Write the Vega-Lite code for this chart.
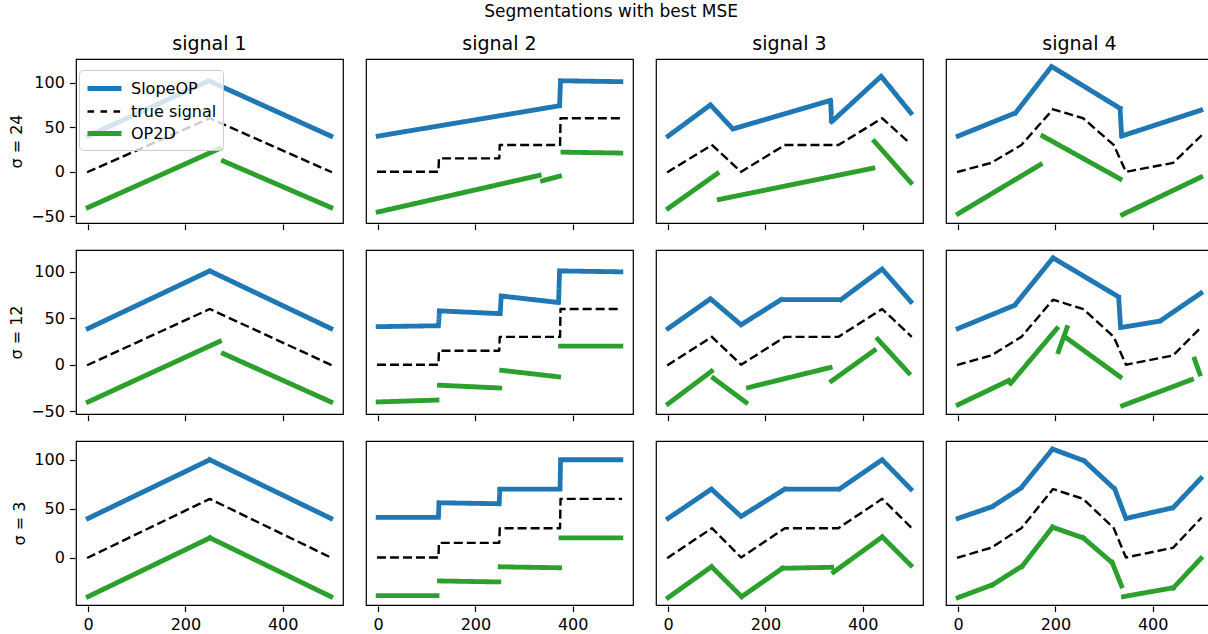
{
  "$schema": "https://vega.github.io/schema/vega-lite/v6.json",
  "background": "white",
  "padding": {"left": 8, "top": 3, "right": 0, "bottom": 0},
  "title": {"text": "Segmentations with best MSE", "fontSize": 17, "fontWeight": "normal", "font": "DejaVu Sans", "color": "black", "anchor": "middle", "offset": 14},
  "config": {
    "font": "DejaVu Sans",
    "view": {"stroke": "black", "strokeWidth": 1.2},
    "axis": {"grid": false, "domain": false, "tickColor": "black", "tickSize": 5.6, "tickWidth": 1.2, "labelFontSize": 16, "labelColor": "black", "labelFont": "DejaVu Sans", "labelPadding": 5, "titleFontSize": 16, "titleFontWeight": "normal", "titleColor": "black", "titleFont": "DejaVu Sans", "titlePadding": 6},
    "header": {"labelFontSize": 19, "labelColor": "black", "labelFont": "DejaVu Sans", "labelPadding": 4},
    "facet": {"spacing": 21},
    "concat": {"spacing": 18}
  },
  "datasets": {
    "d": [
      {"r":24,"c":"signal 1","m":"SlopeOP","g":"a","x":0,"y":40},{"r":24,"c":"signal 1","m":"SlopeOP","g":"a","x":248,"y":102},{"r":24,"c":"signal 1","m":"SlopeOP","g":"a","x":499,"y":40},
      {"r":24,"c":"signal 1","m":"true signal","g":"t","x":0,"y":0},{"r":24,"c":"signal 1","m":"true signal","g":"t","x":250,"y":60},{"r":24,"c":"signal 1","m":"true signal","g":"t","x":499,"y":0},
      {"r":24,"c":"signal 1","m":"OP2D","g":"1","x":0,"y":-40},{"r":24,"c":"signal 1","m":"OP2D","g":"1","x":270,"y":26},
      {"r":24,"c":"signal 1","m":"OP2D","g":"2","x":278,"y":12},{"r":24,"c":"signal 1","m":"OP2D","g":"2","x":499,"y":-40},

      {"r":24,"c":"signal 2","m":"SlopeOP","g":"a","x":0,"y":40},{"r":24,"c":"signal 2","m":"SlopeOP","g":"a","x":373,"y":74},{"r":24,"c":"signal 2","m":"SlopeOP","g":"a","x":375,"y":102},{"r":24,"c":"signal 2","m":"SlopeOP","g":"a","x":499,"y":101},
      {"r":24,"c":"signal 2","m":"true signal","g":"t","x":0,"y":0},{"r":24,"c":"signal 2","m":"true signal","g":"t","x":124,"y":0},{"r":24,"c":"signal 2","m":"true signal","g":"t","x":125,"y":15},{"r":24,"c":"signal 2","m":"true signal","g":"t","x":249,"y":15},{"r":24,"c":"signal 2","m":"true signal","g":"t","x":250,"y":30},{"r":24,"c":"signal 2","m":"true signal","g":"t","x":374,"y":30},{"r":24,"c":"signal 2","m":"true signal","g":"t","x":375,"y":60},{"r":24,"c":"signal 2","m":"true signal","g":"t","x":499,"y":60},
      {"r":24,"c":"signal 2","m":"OP2D","g":"1","x":0,"y":-45},{"r":24,"c":"signal 2","m":"OP2D","g":"1","x":331,"y":-4},
      {"r":24,"c":"signal 2","m":"OP2D","g":"2","x":338,"y":-10},{"r":24,"c":"signal 2","m":"OP2D","g":"2","x":373,"y":-5},
      {"r":24,"c":"signal 2","m":"OP2D","g":"3","x":380,"y":22},{"r":24,"c":"signal 2","m":"OP2D","g":"3","x":499,"y":21},

      {"r":24,"c":"signal 3","m":"SlopeOP","g":"a","x":0,"y":40},{"r":24,"c":"signal 3","m":"SlopeOP","g":"a","x":87,"y":75},{"r":24,"c":"signal 3","m":"SlopeOP","g":"a","x":133,"y":48},{"r":24,"c":"signal 3","m":"SlopeOP","g":"a","x":334,"y":80},{"r":24,"c":"signal 3","m":"SlopeOP","g":"a","x":336,"y":56},{"r":24,"c":"signal 3","m":"SlopeOP","g":"a","x":438,"y":107},{"r":24,"c":"signal 3","m":"SlopeOP","g":"a","x":499,"y":66},
      {"r":24,"c":"signal 3","m":"true signal","g":"t","x":0,"y":0},{"r":24,"c":"signal 3","m":"true signal","g":"t","x":90,"y":30},{"r":24,"c":"signal 3","m":"true signal","g":"t","x":150,"y":0},{"r":24,"c":"signal 3","m":"true signal","g":"t","x":240,"y":30},{"r":24,"c":"signal 3","m":"true signal","g":"t","x":350,"y":30},{"r":24,"c":"signal 3","m":"true signal","g":"t","x":440,"y":60},{"r":24,"c":"signal 3","m":"true signal","g":"t","x":499,"y":31},
      {"r":24,"c":"signal 3","m":"OP2D","g":"1","x":0,"y":-41},{"r":24,"c":"signal 3","m":"OP2D","g":"1","x":101,"y":-2},
      {"r":24,"c":"signal 3","m":"OP2D","g":"2","x":105,"y":-31},{"r":24,"c":"signal 3","m":"OP2D","g":"2","x":421,"y":4},
      {"r":24,"c":"signal 3","m":"OP2D","g":"3","x":424,"y":34},{"r":24,"c":"signal 3","m":"OP2D","g":"3","x":499,"y":-12},

      {"r":24,"c":"signal 4","m":"SlopeOP","g":"a","x":0,"y":40},{"r":24,"c":"signal 4","m":"SlopeOP","g":"a","x":118,"y":66},{"r":24,"c":"signal 4","m":"SlopeOP","g":"a","x":192,"y":118},{"r":24,"c":"signal 4","m":"SlopeOP","g":"a","x":333,"y":71},{"r":24,"c":"signal 4","m":"SlopeOP","g":"a","x":336,"y":40},{"r":24,"c":"signal 4","m":"SlopeOP","g":"a","x":499,"y":69},
      {"r":24,"c":"signal 4","m":"true signal","g":"t","x":0,"y":0},{"r":24,"c":"signal 4","m":"true signal","g":"t","x":68,"y":10},{"r":24,"c":"signal 4","m":"true signal","g":"t","x":130,"y":30},{"r":24,"c":"signal 4","m":"true signal","g":"t","x":195,"y":70},{"r":24,"c":"signal 4","m":"true signal","g":"t","x":257,"y":60},{"r":24,"c":"signal 4","m":"true signal","g":"t","x":320,"y":30},{"r":24,"c":"signal 4","m":"true signal","g":"t","x":345,"y":0},{"r":24,"c":"signal 4","m":"true signal","g":"t","x":442,"y":10},{"r":24,"c":"signal 4","m":"true signal","g":"t","x":499,"y":40},
      {"r":24,"c":"signal 4","m":"OP2D","g":"1","x":0,"y":-47},{"r":24,"c":"signal 4","m":"OP2D","g":"1","x":169,"y":8},
      {"r":24,"c":"signal 4","m":"OP2D","g":"2","x":174,"y":40},{"r":24,"c":"signal 4","m":"OP2D","g":"2","x":333,"y":-8},
      {"r":24,"c":"signal 4","m":"OP2D","g":"3","x":338,"y":-48},{"r":24,"c":"signal 4","m":"OP2D","g":"3","x":499,"y":-6},

      {"r":12,"c":"signal 1","m":"SlopeOP","g":"a","x":0,"y":39},{"r":12,"c":"signal 1","m":"SlopeOP","g":"a","x":250,"y":101},{"r":12,"c":"signal 1","m":"SlopeOP","g":"a","x":499,"y":39},
      {"r":12,"c":"signal 1","m":"true signal","g":"t","x":0,"y":0},{"r":12,"c":"signal 1","m":"true signal","g":"t","x":250,"y":60},{"r":12,"c":"signal 1","m":"true signal","g":"t","x":499,"y":0},
      {"r":12,"c":"signal 1","m":"OP2D","g":"1","x":0,"y":-40},{"r":12,"c":"signal 1","m":"OP2D","g":"1","x":270,"y":25},
      {"r":12,"c":"signal 1","m":"OP2D","g":"2","x":278,"y":12},{"r":12,"c":"signal 1","m":"OP2D","g":"2","x":499,"y":-40},

      {"r":12,"c":"signal 2","m":"SlopeOP","g":"a","x":0,"y":41},{"r":12,"c":"signal 2","m":"SlopeOP","g":"a","x":124,"y":42},{"r":12,"c":"signal 2","m":"SlopeOP","g":"a","x":126,"y":58},{"r":12,"c":"signal 2","m":"SlopeOP","g":"a","x":251,"y":55},{"r":12,"c":"signal 2","m":"SlopeOP","g":"a","x":253,"y":74},{"r":12,"c":"signal 2","m":"SlopeOP","g":"a","x":371,"y":67},{"r":12,"c":"signal 2","m":"SlopeOP","g":"a","x":373,"y":101},{"r":12,"c":"signal 2","m":"SlopeOP","g":"a","x":499,"y":100},
      {"r":12,"c":"signal 2","m":"true signal","g":"t","x":0,"y":0},{"r":12,"c":"signal 2","m":"true signal","g":"t","x":124,"y":0},{"r":12,"c":"signal 2","m":"true signal","g":"t","x":125,"y":15},{"r":12,"c":"signal 2","m":"true signal","g":"t","x":249,"y":15},{"r":12,"c":"signal 2","m":"true signal","g":"t","x":250,"y":30},{"r":12,"c":"signal 2","m":"true signal","g":"t","x":374,"y":30},{"r":12,"c":"signal 2","m":"true signal","g":"t","x":375,"y":60},{"r":12,"c":"signal 2","m":"true signal","g":"t","x":499,"y":60},
      {"r":12,"c":"signal 2","m":"OP2D","g":"1","x":0,"y":-40},{"r":12,"c":"signal 2","m":"OP2D","g":"1","x":121,"y":-38},
      {"r":12,"c":"signal 2","m":"OP2D","g":"2","x":126,"y":-22},{"r":12,"c":"signal 2","m":"OP2D","g":"2","x":250,"y":-25},
      {"r":12,"c":"signal 2","m":"OP2D","g":"3","x":254,"y":-6},{"r":12,"c":"signal 2","m":"OP2D","g":"3","x":371,"y":-13},
      {"r":12,"c":"signal 2","m":"OP2D","g":"4","x":375,"y":20},{"r":12,"c":"signal 2","m":"OP2D","g":"4","x":499,"y":20},

      {"r":12,"c":"signal 3","m":"SlopeOP","g":"a","x":0,"y":39},{"r":12,"c":"signal 3","m":"SlopeOP","g":"a","x":87,"y":71},{"r":12,"c":"signal 3","m":"SlopeOP","g":"a","x":150,"y":43},{"r":12,"c":"signal 3","m":"SlopeOP","g":"a","x":232,"y":70},{"r":12,"c":"signal 3","m":"SlopeOP","g":"a","x":355,"y":70},{"r":12,"c":"signal 3","m":"SlopeOP","g":"a","x":440,"y":103},{"r":12,"c":"signal 3","m":"SlopeOP","g":"a","x":499,"y":68},
      {"r":12,"c":"signal 3","m":"true signal","g":"t","x":0,"y":0},{"r":12,"c":"signal 3","m":"true signal","g":"t","x":90,"y":30},{"r":12,"c":"signal 3","m":"true signal","g":"t","x":150,"y":0},{"r":12,"c":"signal 3","m":"true signal","g":"t","x":240,"y":30},{"r":12,"c":"signal 3","m":"true signal","g":"t","x":350,"y":30},{"r":12,"c":"signal 3","m":"true signal","g":"t","x":440,"y":60},{"r":12,"c":"signal 3","m":"true signal","g":"t","x":499,"y":31},
      {"r":12,"c":"signal 3","m":"OP2D","g":"1","x":0,"y":-42},{"r":12,"c":"signal 3","m":"OP2D","g":"1","x":89,"y":-7},
      {"r":12,"c":"signal 3","m":"OP2D","g":"2","x":93,"y":-14.5},{"r":12,"c":"signal 3","m":"OP2D","g":"2","x":160,"y":-40.5},
      {"r":12,"c":"signal 3","m":"OP2D","g":"3","x":165,"y":-24.5},{"r":12,"c":"signal 3","m":"OP2D","g":"3","x":333,"y":-3},
      {"r":12,"c":"signal 3","m":"OP2D","g":"4","x":336,"y":-17.5},{"r":12,"c":"signal 3","m":"OP2D","g":"4","x":424,"y":15.5},
      {"r":12,"c":"signal 3","m":"OP2D","g":"5","x":431,"y":27.5},{"r":12,"c":"signal 3","m":"OP2D","g":"5","x":495,"y":-9},

      {"r":12,"c":"signal 4","m":"SlopeOP","g":"a","x":0,"y":39},{"r":12,"c":"signal 4","m":"SlopeOP","g":"a","x":116,"y":64},{"r":12,"c":"signal 4","m":"SlopeOP","g":"a","x":195,"y":115},{"r":12,"c":"signal 4","m":"SlopeOP","g":"a","x":330,"y":73},{"r":12,"c":"signal 4","m":"SlopeOP","g":"a","x":334,"y":40},{"r":12,"c":"signal 4","m":"SlopeOP","g":"a","x":415,"y":47},{"r":12,"c":"signal 4","m":"SlopeOP","g":"a","x":499,"y":77},
      {"r":12,"c":"signal 4","m":"true signal","g":"t","x":0,"y":0},{"r":12,"c":"signal 4","m":"true signal","g":"t","x":68,"y":10},{"r":12,"c":"signal 4","m":"true signal","g":"t","x":130,"y":30},{"r":12,"c":"signal 4","m":"true signal","g":"t","x":195,"y":70},{"r":12,"c":"signal 4","m":"true signal","g":"t","x":257,"y":60},{"r":12,"c":"signal 4","m":"true signal","g":"t","x":320,"y":30},{"r":12,"c":"signal 4","m":"true signal","g":"t","x":345,"y":0},{"r":12,"c":"signal 4","m":"true signal","g":"t","x":442,"y":10},{"r":12,"c":"signal 4","m":"true signal","g":"t","x":499,"y":40},
      {"r":12,"c":"signal 4","m":"OP2D","g":"1","x":0,"y":-43},{"r":12,"c":"signal 4","m":"OP2D","g":"1","x":104,"y":-17},
      {"r":12,"c":"signal 4","m":"OP2D","g":"2","x":108,"y":-20},{"r":12,"c":"signal 4","m":"OP2D","g":"2","x":203,"y":39},
      {"r":12,"c":"signal 4","m":"OP2D","g":"3","x":206,"y":14},{"r":12,"c":"signal 4","m":"OP2D","g":"3","x":224,"y":40},
      {"r":12,"c":"signal 4","m":"OP2D","g":"4","x":221,"y":29.5},{"r":12,"c":"signal 4","m":"OP2D","g":"4","x":333,"y":-13},
      {"r":12,"c":"signal 4","m":"OP2D","g":"5","x":338,"y":-44},{"r":12,"c":"signal 4","m":"OP2D","g":"5","x":480,"y":-16},
      {"r":12,"c":"signal 4","m":"OP2D","g":"6","x":486,"y":6},{"r":12,"c":"signal 4","m":"OP2D","g":"6","x":497,"y":-10},

      {"r":3,"c":"signal 1","m":"SlopeOP","g":"a","x":0,"y":40},{"r":3,"c":"signal 1","m":"SlopeOP","g":"a","x":250,"y":100},{"r":3,"c":"signal 1","m":"SlopeOP","g":"a","x":499,"y":40},
      {"r":3,"c":"signal 1","m":"true signal","g":"t","x":0,"y":0},{"r":3,"c":"signal 1","m":"true signal","g":"t","x":250,"y":60},{"r":3,"c":"signal 1","m":"true signal","g":"t","x":499,"y":0},
      {"r":3,"c":"signal 1","m":"OP2D","g":"1","x":0,"y":-40},{"r":3,"c":"signal 1","m":"OP2D","g":"1","x":250,"y":20},
      {"r":3,"c":"signal 1","m":"OP2D","g":"2","x":251,"y":20},{"r":3,"c":"signal 1","m":"OP2D","g":"2","x":499,"y":-40},

      {"r":3,"c":"signal 2","m":"SlopeOP","g":"a","x":0,"y":41},{"r":3,"c":"signal 2","m":"SlopeOP","g":"a","x":124,"y":41},{"r":3,"c":"signal 2","m":"SlopeOP","g":"a","x":125,"y":56},{"r":3,"c":"signal 2","m":"SlopeOP","g":"a","x":249,"y":55},{"r":3,"c":"signal 2","m":"SlopeOP","g":"a","x":250,"y":70},{"r":3,"c":"signal 2","m":"SlopeOP","g":"a","x":374,"y":70},{"r":3,"c":"signal 2","m":"SlopeOP","g":"a","x":375,"y":100},{"r":3,"c":"signal 2","m":"SlopeOP","g":"a","x":499,"y":100},
      {"r":3,"c":"signal 2","m":"true signal","g":"t","x":0,"y":0},{"r":3,"c":"signal 2","m":"true signal","g":"t","x":124,"y":0},{"r":3,"c":"signal 2","m":"true signal","g":"t","x":125,"y":15},{"r":3,"c":"signal 2","m":"true signal","g":"t","x":249,"y":15},{"r":3,"c":"signal 2","m":"true signal","g":"t","x":250,"y":30},{"r":3,"c":"signal 2","m":"true signal","g":"t","x":374,"y":30},{"r":3,"c":"signal 2","m":"true signal","g":"t","x":375,"y":60},{"r":3,"c":"signal 2","m":"true signal","g":"t","x":499,"y":60},
      {"r":3,"c":"signal 2","m":"OP2D","g":"1","x":0,"y":-39},{"r":3,"c":"signal 2","m":"OP2D","g":"1","x":121,"y":-39},
      {"r":3,"c":"signal 2","m":"OP2D","g":"2","x":126,"y":-24},{"r":3,"c":"signal 2","m":"OP2D","g":"2","x":248,"y":-25},
      {"r":3,"c":"signal 2","m":"OP2D","g":"3","x":251,"y":-9.5},{"r":3,"c":"signal 2","m":"OP2D","g":"3","x":373,"y":-10.5},
      {"r":3,"c":"signal 2","m":"OP2D","g":"4","x":376,"y":20},{"r":3,"c":"signal 2","m":"OP2D","g":"4","x":499,"y":20},

      {"r":3,"c":"signal 3","m":"SlopeOP","g":"a","x":0,"y":40},{"r":3,"c":"signal 3","m":"SlopeOP","g":"a","x":89,"y":70},{"r":3,"c":"signal 3","m":"SlopeOP","g":"a","x":150,"y":42},{"r":3,"c":"signal 3","m":"SlopeOP","g":"a","x":240,"y":70},{"r":3,"c":"signal 3","m":"SlopeOP","g":"a","x":352,"y":70},{"r":3,"c":"signal 3","m":"SlopeOP","g":"a","x":440,"y":100},{"r":3,"c":"signal 3","m":"SlopeOP","g":"a","x":499,"y":70},
      {"r":3,"c":"signal 3","m":"true signal","g":"t","x":0,"y":0},{"r":3,"c":"signal 3","m":"true signal","g":"t","x":90,"y":30},{"r":3,"c":"signal 3","m":"true signal","g":"t","x":150,"y":0},{"r":3,"c":"signal 3","m":"true signal","g":"t","x":240,"y":30},{"r":3,"c":"signal 3","m":"true signal","g":"t","x":350,"y":30},{"r":3,"c":"signal 3","m":"true signal","g":"t","x":440,"y":60},{"r":3,"c":"signal 3","m":"true signal","g":"t","x":499,"y":31},
      {"r":3,"c":"signal 3","m":"OP2D","g":"1","x":0,"y":-41},{"r":3,"c":"signal 3","m":"OP2D","g":"1","x":89,"y":-9.5},
      {"r":3,"c":"signal 3","m":"OP2D","g":"2","x":89.5,"y":-9.5},{"r":3,"c":"signal 3","m":"OP2D","g":"2","x":151,"y":-40},
      {"r":3,"c":"signal 3","m":"OP2D","g":"3","x":151.5,"y":-40},{"r":3,"c":"signal 3","m":"OP2D","g":"3","x":235,"y":-11},
      {"r":3,"c":"signal 3","m":"OP2D","g":"4","x":235.5,"y":-11},{"r":3,"c":"signal 3","m":"OP2D","g":"4","x":336,"y":-10},
      {"r":3,"c":"signal 3","m":"OP2D","g":"5","x":340,"y":-15},{"r":3,"c":"signal 3","m":"OP2D","g":"5","x":440,"y":21},
      {"r":3,"c":"signal 3","m":"OP2D","g":"6","x":440.5,"y":21},{"r":3,"c":"signal 3","m":"OP2D","g":"6","x":499,"y":-8},

      {"r":3,"c":"signal 4","m":"SlopeOP","g":"a","x":0,"y":40},{"r":3,"c":"signal 4","m":"SlopeOP","g":"a","x":70,"y":52},{"r":3,"c":"signal 4","m":"SlopeOP","g":"a","x":129,"y":71},{"r":3,"c":"signal 4","m":"SlopeOP","g":"a","x":194,"y":111},{"r":3,"c":"signal 4","m":"SlopeOP","g":"a","x":259,"y":99},{"r":3,"c":"signal 4","m":"SlopeOP","g":"a","x":322,"y":70},{"r":3,"c":"signal 4","m":"SlopeOP","g":"a","x":345,"y":40},{"r":3,"c":"signal 4","m":"SlopeOP","g":"a","x":442,"y":51},{"r":3,"c":"signal 4","m":"SlopeOP","g":"a","x":499,"y":81},
      {"r":3,"c":"signal 4","m":"true signal","g":"t","x":0,"y":0},{"r":3,"c":"signal 4","m":"true signal","g":"t","x":68,"y":10},{"r":3,"c":"signal 4","m":"true signal","g":"t","x":130,"y":30},{"r":3,"c":"signal 4","m":"true signal","g":"t","x":195,"y":70},{"r":3,"c":"signal 4","m":"true signal","g":"t","x":257,"y":60},{"r":3,"c":"signal 4","m":"true signal","g":"t","x":320,"y":30},{"r":3,"c":"signal 4","m":"true signal","g":"t","x":345,"y":0},{"r":3,"c":"signal 4","m":"true signal","g":"t","x":442,"y":10},{"r":3,"c":"signal 4","m":"true signal","g":"t","x":499,"y":40},
      {"r":3,"c":"signal 4","m":"OP2D","g":"1","x":0,"y":-41},{"r":3,"c":"signal 4","m":"OP2D","g":"1","x":70,"y":-28},
      {"r":3,"c":"signal 4","m":"OP2D","g":"2","x":70.5,"y":-28},{"r":3,"c":"signal 4","m":"OP2D","g":"2","x":131,"y":-9},
      {"r":3,"c":"signal 4","m":"OP2D","g":"3","x":131.5,"y":-9},{"r":3,"c":"signal 4","m":"OP2D","g":"3","x":194,"y":31},
      {"r":3,"c":"signal 4","m":"OP2D","g":"4","x":194.5,"y":31},{"r":3,"c":"signal 4","m":"OP2D","g":"4","x":257,"y":20},
      {"r":3,"c":"signal 4","m":"OP2D","g":"5","x":257.5,"y":20},{"r":3,"c":"signal 4","m":"OP2D","g":"5","x":316,"y":-5},
      {"r":3,"c":"signal 4","m":"OP2D","g":"6","x":316.5,"y":-5},{"r":3,"c":"signal 4","m":"OP2D","g":"6","x":336,"y":-29},
      {"r":3,"c":"signal 4","m":"OP2D","g":"7","x":340,"y":-40},{"r":3,"c":"signal 4","m":"OP2D","g":"7","x":442,"y":-31},
      {"r":3,"c":"signal 4","m":"OP2D","g":"8","x":442.5,"y":-31},{"r":3,"c":"signal 4","m":"OP2D","g":"8","x":499,"y":-1}
    ]
  },
  "resolve": {
    "scale": {"x": "independent", "y": "independent", "color": "shared", "strokeDash": "shared", "strokeWidth": "shared"},
    "legend": {"color": "shared", "strokeDash": "shared", "strokeWidth": "shared"}
  },
  "vconcat": [
    {
      "data": {"name": "d"},
      "transform": [{"filter": "datum.r == 24"}],
      "facet": {"column": {"field": "c", "type": "nominal", "title": null}},
      "spec": {
        "width": 267, "height": 164,
        "mark": {"type": "line", "strokeCap": "square", "strokeJoin": "round"},
        "encoding": {
          "x": {"field": "x", "type": "quantitative", "scale": {"domain": [-25, 524], "nice": false, "zero": false}, "axis": {"values": [0, 200, 400], "labels": false, "title": null}},
          "y": {"field": "y", "type": "quantitative", "scale": {"domain": [-57.4, 126.4], "nice": false, "zero": false}, "axis": {"values": [-50, 0, 50, 100], "title": "σ = 24"}},
          "color": {"field": "m", "type": "nominal", "scale": {"domain": ["SlopeOP", "true signal", "OP2D"], "range": ["#1f77b4", "#000000", "#2ca02c"]},
            "legend": {"orient": "none", "legendX": 3, "legendY": 11, "title": null, "fillColor": "rgba(255,255,255,0.8)", "strokeColor": "#cccccc", "cornerRadius": 4, "padding": 6, "labelFontSize": 16, "labelColor": "black", "labelFont": "DejaVu Sans", "symbolType": "M-1,0H2.4", "symbolSize": 400, "rowPadding": 1, "labelOffset": 21}},
          "strokeDash": {"field": "m", "type": "nominal", "scale": {"domain": ["SlopeOP", "true signal", "OP2D"], "range": [[1, 0], [6.6, 6.4], [1, 0]]}},
          "strokeWidth": {"field": "m", "type": "nominal", "scale": {"type": "ordinal", "domain": ["SlopeOP", "true signal", "OP2D"], "range": [4.8, 2.4, 4.8]}},
          "detail": {"field": "g", "type": "nominal"}
        }
      }
    },
    {
      "data": {"name": "d"},
      "transform": [{"filter": "datum.r == 12"}],
      "facet": {"column": {"field": "c", "type": "nominal", "title": null, "header": {"labels": false, "labelPadding": 0}}},
      "spec": {
        "width": 267, "height": 164,
        "mark": {"type": "line", "strokeCap": "square", "strokeJoin": "round"},
        "encoding": {
          "x": {"field": "x", "type": "quantitative", "scale": {"domain": [-25, 524], "nice": false, "zero": false}, "axis": {"values": [0, 200, 400], "labels": false, "title": null}},
          "y": {"field": "y", "type": "quantitative", "scale": {"domain": [-53, 123.5], "nice": false, "zero": false}, "axis": {"values": [-50, 0, 50, 100], "title": "σ = 12"}},
          "color": {"field": "m", "type": "nominal", "scale": {"domain": ["SlopeOP", "true signal", "OP2D"], "range": ["#1f77b4", "#000000", "#2ca02c"]},
            "legend": {"orient": "none", "legendX": 3, "legendY": 11, "title": null, "fillColor": "rgba(255,255,255,0.8)", "strokeColor": "#cccccc", "cornerRadius": 4, "padding": 6, "labelFontSize": 16, "labelColor": "black", "labelFont": "DejaVu Sans", "symbolType": "M-1,0H2.4", "symbolSize": 400, "rowPadding": 1, "labelOffset": 21}},
          "strokeDash": {"field": "m", "type": "nominal", "scale": {"domain": ["SlopeOP", "true signal", "OP2D"], "range": [[1, 0], [6.6, 6.4], [1, 0]]}},
          "strokeWidth": {"field": "m", "type": "nominal", "scale": {"type": "ordinal", "domain": ["SlopeOP", "true signal", "OP2D"], "range": [4.8, 2.4, 4.8]}},
          "detail": {"field": "g", "type": "nominal"}
        }
      }
    },
    {
      "data": {"name": "d"},
      "transform": [{"filter": "datum.r == 3"}],
      "facet": {"column": {"field": "c", "type": "nominal", "title": null, "header": {"labels": false, "labelPadding": 0}}},
      "spec": {
        "width": 267, "height": 164,
        "mark": {"type": "line", "strokeCap": "square", "strokeJoin": "round"},
        "encoding": {
          "x": {"field": "x", "type": "quantitative", "scale": {"domain": [-25, 524], "nice": false, "zero": false}, "axis": {"values": [0, 200, 400], "title": null}},
          "y": {"field": "y", "type": "quantitative", "scale": {"domain": [-48.6, 119.2], "nice": false, "zero": false}, "axis": {"values": [0, 50, 100], "title": "σ = 3"}},
          "color": {"field": "m", "type": "nominal", "scale": {"domain": ["SlopeOP", "true signal", "OP2D"], "range": ["#1f77b4", "#000000", "#2ca02c"]},
            "legend": {"orient": "none", "legendX": 3, "legendY": 11, "title": null, "fillColor": "rgba(255,255,255,0.8)", "strokeColor": "#cccccc", "cornerRadius": 4, "padding": 6, "labelFontSize": 16, "labelColor": "black", "labelFont": "DejaVu Sans", "symbolType": "M-1,0H2.4", "symbolSize": 400, "rowPadding": 1, "labelOffset": 21}},
          "strokeDash": {"field": "m", "type": "nominal", "scale": {"domain": ["SlopeOP", "true signal", "OP2D"], "range": [[1, 0], [6.6, 6.4], [1, 0]]}},
          "strokeWidth": {"field": "m", "type": "nominal", "scale": {"type": "ordinal", "domain": ["SlopeOP", "true signal", "OP2D"], "range": [4.8, 2.4, 4.8]}},
          "detail": {"field": "g", "type": "nominal"}
        }
      }
    }
  ]
}
